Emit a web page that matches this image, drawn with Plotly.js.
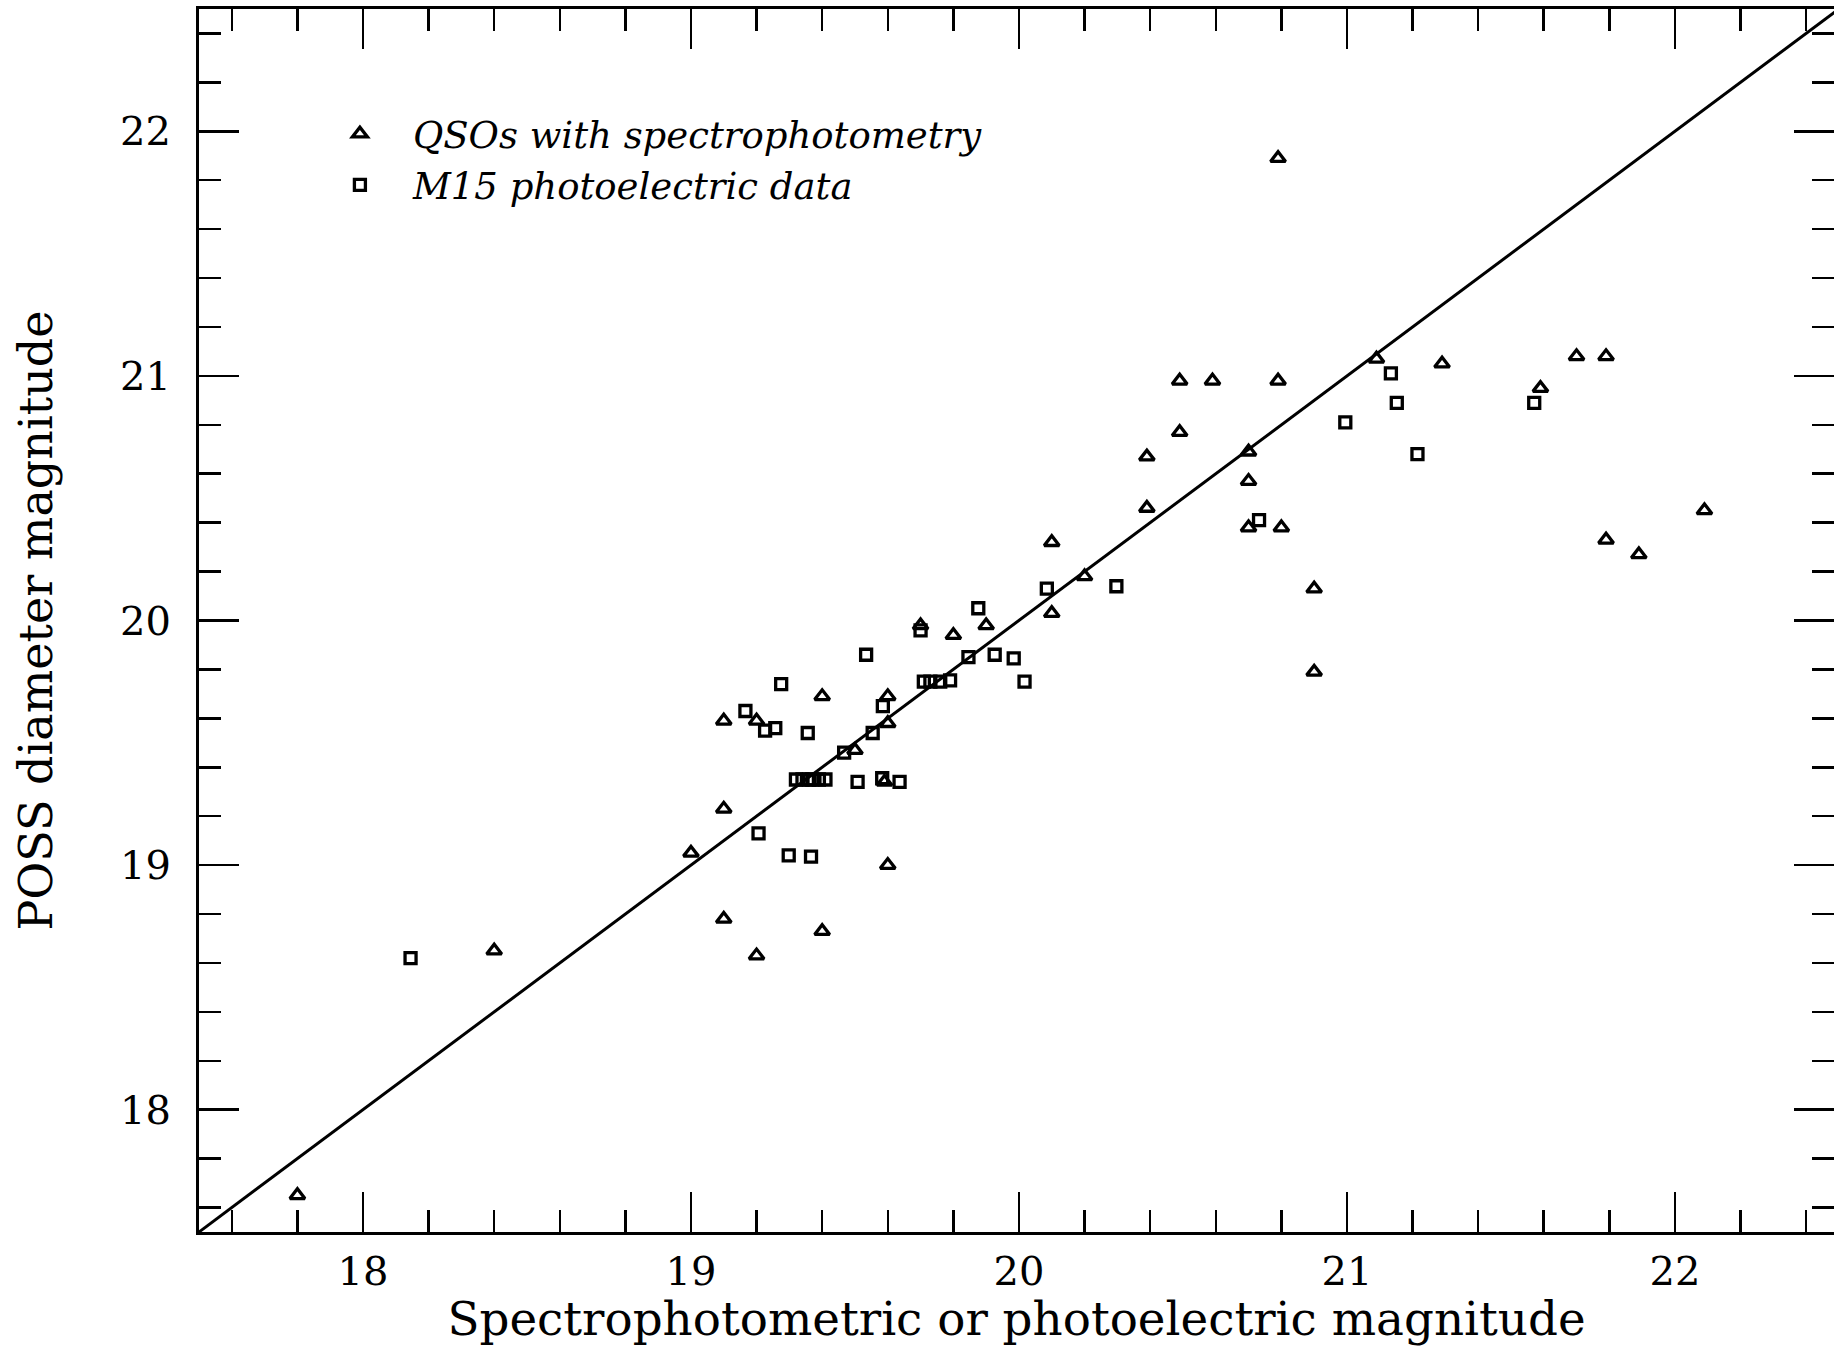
<!DOCTYPE html>
<html>
<head>
<meta charset="utf-8">
<script src="https://cdn.plot.ly/plotly-3.0.1.min.js"></script>
<style>html,body{margin:0;padding:0;background:#fff;}</style>
</head>
<body>
<div id="chart" style="width:1834px;height:1346px;"></div>
<script>
// QSOs with spectrophotometry (triangles)
const qsoX = [17.80,18.40,19.00,19.10,19.10,19.10,19.20,19.20,19.40,19.40,19.50,19.60,19.60,19.59,19.60,19.70,19.80,19.90,20.10,20.10,20.20,20.39,20.39,20.49,20.49,20.59,20.70,20.70,20.70,20.79,20.79,20.80,20.90,20.90,21.09,21.29,21.59,21.70,21.79,21.79,21.89,22.09];
const qsoY = [17.65,18.65,19.05,19.59,19.23,18.78,19.59,18.63,19.69,18.73,19.47,19.69,19.58,19.34,19.00,19.98,19.94,19.98,20.32,20.03,20.18,20.46,20.67,20.98,20.77,20.98,20.69,20.57,20.38,21.89,20.98,20.38,20.13,19.79,21.07,21.05,20.95,21.08,21.08,20.33,20.27,20.45];

// M15 photoelectric data (squares)
const m15X = [18.145,19.166,19.206,19.226,19.257,19.275,19.298,19.366,19.356,19.32,19.34,19.36,19.37,19.39,19.41,19.467,19.508,19.534,19.554,19.583,19.585,19.636,19.70,19.71,19.73,19.76,19.79,19.846,19.876,19.926,19.984,20.017,20.085,20.297,20.732,20.995,21.134,21.152,21.215,21.571];
const m15Y = [18.62,19.63,19.13,19.55,19.56,19.74,19.04,19.035,19.54,19.35,19.35,19.35,19.35,19.35,19.35,19.46,19.34,19.86,19.54,19.355,19.65,19.34,19.96,19.75,19.75,19.75,19.755,19.85,20.05,19.86,19.845,19.75,20.13,20.14,20.41,20.81,21.01,20.89,20.68,20.89];

// one-to-one line
const lineX = [17.5, 22.5];
const lineY = [17.5, 22.5];

const xTickVals = [18, 19, 20, 21, 22];
const xTickText = ['18', '19', '20', '21', '22'];
const yTickVals = [18, 19, 20, 21, 22];
const yTickText = ['18', '19', '20', '21', '22'];

const FONT = 'DejaVu Serif';

const traces = [
  {x: lineX, y: lineY, mode: 'lines', line: {color: '#000', width: 3}, showlegend: false, hoverinfo: 'skip'},
  {x: qsoX, y: qsoY, mode: 'markers', name: 'QSOs with spectrophotometry', legendgroup: 'a',
   marker: {symbol: 'triangle-up-open', size: 13, color: '#000', line: {color: '#000', width: 3.3}}},
  {x: m15X, y: m15Y, mode: 'markers', name: 'M15 photoelectric data', legendgroup: 'b',
   marker: {symbol: 'square-open', size: 11, color: '#000', line: {color: '#000', width: 3.3}}}
];

function axis(tv, tt, range, title, tsize, standoff, labelOff) {
  return {
    range: range, tickmode: 'array', tickvals: tv, ticktext: tt,
    ticks: 'inside', ticklen: 40, tickwidth: 2.5, tickcolor: '#000',
    minor: {ticks: 'inside', ticklen: 22, tickwidth: 2.5, tickcolor: '#000', tickmode: 'linear', tick0: 17.6, dtick: 0.2, showgrid: false},
    showline: true, linecolor: '#000', linewidth: 3, mirror: 'allticks',
    showgrid: false, zeroline: false,
    tickfont: {family: FONT, size: 40, color: '#000'},
    ticklabelstandoff: labelOff,
    title: {text: title, font: {family: FONT, size: tsize, color: '#000'}, standoff: standoff},
    automargin: false
  };
}

const layout = {
  width: 1834, height: 1346,
  margin: {l: 199, r: 0, t: 9, b: 114},
  paper_bgcolor: '#fff', plot_bgcolor: '#fff',
  xaxis: axis(xTickVals, xTickText, [17.5, 22.485], 'Spectrophotometric or photoelectric magnitude', 46.8, 17, 2),
  yaxis: axis(yTickVals, yTickText, [17.5, 22.5], 'POSS diameter magnitude', 46, 53, 17),
  showlegend: true,
  legend: {x: 0.066, y: 0.923, xanchor: 'left', yanchor: 'top', bgcolor: 'rgba(0,0,0,0)',
           itemwidth: 96, tracegroupgap: 0,
           font: {family: FONT, size: 37, color: '#000', style: 'italic'}}
};

Plotly.newPlot('chart', traces, layout, {staticPlot: true, displayModeBar: false});
</script>
</body>
</html>
